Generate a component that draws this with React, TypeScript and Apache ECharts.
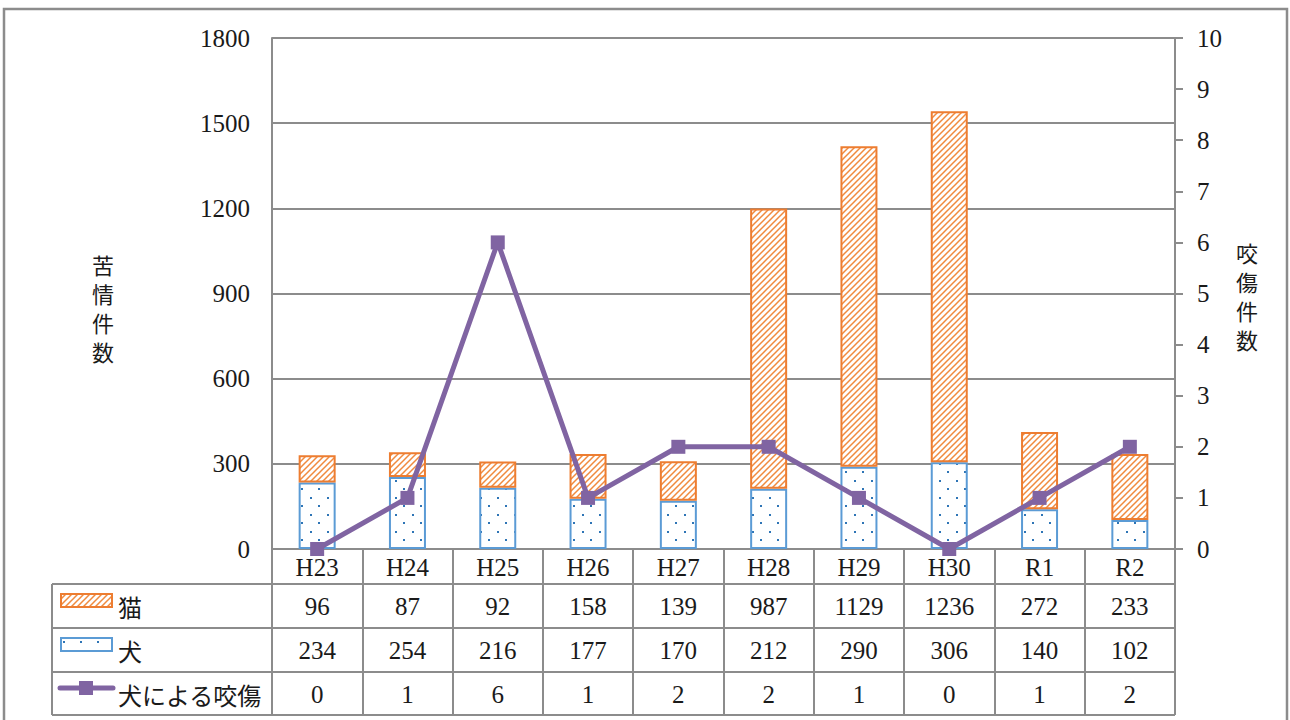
import React, { useEffect, useRef } from 'react';
import * as echarts from 'echarts';

const categories = ['H23', 'H24', 'H25', 'H26', 'H27', 'H28', 'H29', 'H30', 'R1', 'R2'];
const catValues = [96, 87, 92, 158, 139, 987, 1129, 1236, 272, 233];
const dogValues = [234, 254, 216, 177, 170, 212, 290, 306, 140, 102];
const biteValues = [0, 1, 6, 1, 2, 2, 1, 0, 1, 2];
const seriesNames = ['猫', '犬', '犬による咬傷'];
const leftAxisTitle = '苦情件数';
const rightAxisTitle = '咬傷件数';

const ORANGE = '#ED7D31';
const BLUE = '#5B9BD5';
const PURPLE = '#8064A2';
const GRAY = '#8c8c8c';
const TEXT = '#1a1a1a';
const SERIF = '"Liberation Serif", "DejaVu Serif", serif';
const CJK = '"Noto Sans CJK JP", sans-serif';

function makeHatch() {
  const c = document.createElement('canvas');
  c.width = 6;
  c.height = 6;
  const ctx = c.getContext('2d')!;
  ctx.fillStyle = '#ffffff';
  ctx.fillRect(0, 0, 6, 6);
  ctx.strokeStyle = '#F08A3E';
  ctx.lineWidth = 1.5;
  ctx.beginPath();
  ctx.moveTo(0, 6); ctx.lineTo(6, 0);
  ctx.moveTo(-3, 3); ctx.lineTo(3, -3);
  ctx.moveTo(3, 9); ctx.lineTo(9, 3);
  ctx.stroke();
  return { image: c, repeat: 'repeat' };
}

function makeDots() {
  const c = document.createElement('canvas');
  c.width = 17;
  c.height = 17;
  const ctx = c.getContext('2d')!;
  ctx.fillStyle = '#ffffff';
  ctx.fillRect(0, 0, 17, 17);
  ctx.fillStyle = '#2E75B6';
  ctx.fillRect(4, 4, 2, 2);
  ctx.fillRect(12, 12, 2, 2);
  return { image: c, repeat: 'repeat' };
}

export default function App() {
  const ref = useRef<HTMLDivElement>(null);
  useEffect(() => {
    document.body.style.margin = '0';
    const chart = echarts.init(ref.current!, null, { renderer: 'svg' });
    const hatch = makeHatch();
    const dots = makeDots();

    const L = 272, R = 1175, T = 38, B = 549;
    const rowLines = [584, 628, 672, 715];
    const tableLeft = 52;
    const colW = (R - L) / categories.length;
    const rowCenters = [606, 650, 694];
    const rows = [catValues, dogValues, biteValues];

    const graphics: any[] = [];
    graphics.push({
      type: 'rect', shape: { x: 4, y: 9, width: 1283, height: 730 },
      style: { fill: 'none', stroke: GRAY, lineWidth: 2.5 }, silent: true,
    });
    rowLines.forEach((y) => {
      graphics.push({
        type: 'line', shape: { x1: tableLeft, y1: y, x2: R, y2: y },
        style: { stroke: GRAY, lineWidth: 2 }, silent: true,
      });
    });
    graphics.push({
      type: 'line', shape: { x1: tableLeft, y1: rowLines[0], x2: tableLeft, y2: rowLines[3] },
      style: { stroke: GRAY, lineWidth: 2 }, silent: true,
    });
    rows.forEach((vals, r) => {
      vals.forEach((v, i) => {
        graphics.push({
          type: 'text', x: L + (i + 0.5) * colW, y: rowCenters[r],
          style: { text: String(v), font: `25px ${SERIF}`, fill: TEXT, textAlign: 'center', textVerticalAlign: 'middle' },
          silent: true,
        });
      });
    });
    graphics.push({
      type: 'rect', shape: { x: 61, y: 594, width: 51, height: 13 },
      style: { fill: hatch, stroke: ORANGE, lineWidth: 2 }, silent: true,
    });
    graphics.push({
      type: 'rect', shape: { x: 61, y: 638, width: 51, height: 13 },
      style: { fill: dots, stroke: BLUE, lineWidth: 2 }, silent: true,
    });
    graphics.push({
      type: 'line', shape: { x1: 60, y1: 688, x2: 113, y2: 688 },
      style: { stroke: PURPLE, lineWidth: 5, lineCap: 'round' }, silent: true,
    });
    graphics.push({
      type: 'rect', shape: { x: 79, y: 681, width: 14, height: 14 },
      style: { fill: PURPLE }, silent: true,
    });
    seriesNames.forEach((name, r) => {
      graphics.push({
        type: 'text', x: 118, y: rowCenters[r],
        style: { text: name, font: `24px ${CJK}`, fill: TEXT, textAlign: 'left', textVerticalAlign: 'middle' },
        silent: true,
      });
    });
    leftAxisTitle.split('').forEach((ch, k) => {
      graphics.push({
        type: 'text', x: 103, y: 264 + k * 29,
        style: { text: ch, font: `22px ${CJK}`, fill: TEXT, textAlign: 'center', textVerticalAlign: 'middle' },
        silent: true,
      });
    });
    rightAxisTitle.split('').forEach((ch, k) => {
      graphics.push({
        type: 'text', x: 1247, y: 252 + k * 29,
        style: { text: ch, font: `22px ${CJK}`, fill: TEXT, textAlign: 'center', textVerticalAlign: 'middle' },
        silent: true,
      });
    });

    chart.setOption({
      animation: false,
      backgroundColor: '#ffffff',
      grid: { left: L, right: 1290 - R, top: T, bottom: 720 - B, containLabel: false },
      xAxis: {
        type: 'category',
        data: categories,
        boundaryGap: true,
        axisLine: { show: true, lineStyle: { color: GRAY, width: 2 } },
        axisTick: { show: true, length: rowLines[3] - B, lineStyle: { color: GRAY, width: 2 } },
        axisLabel: { fontSize: 25, fontFamily: SERIF, color: TEXT, margin: 6 },
      },
      yAxis: [
        {
          type: 'value', min: 0, max: 1800, interval: 300,
          axisLine: { show: true, lineStyle: { color: GRAY, width: 2 } },
          axisTick: { show: false },
          splitLine: { show: true, lineStyle: { color: GRAY, width: 2 } },
          axisLabel: { fontSize: 25, fontFamily: SERIF, color: TEXT, margin: 22, formatter: (v: number) => String(v) },
        },
        {
          type: 'value', min: 0, max: 10, interval: 1,
          axisLine: { show: true, lineStyle: { color: GRAY, width: 2 } },
          axisTick: { show: true, length: 8, lineStyle: { color: GRAY, width: 2 } },
          splitLine: { show: false },
          axisLabel: { fontSize: 25, fontFamily: SERIF, color: TEXT, margin: 22, formatter: (v: number) => String(v) },
        },
      ],
      series: [
        {
          name: seriesNames[1], type: 'bar', stack: 'total', data: dogValues, barWidth: 37,
          itemStyle: { color: dots, borderColor: BLUE, borderWidth: 2 },
        },
        {
          name: seriesNames[0], type: 'bar', stack: 'total', data: catValues, barWidth: 37,
          itemStyle: { color: hatch, borderColor: ORANGE, borderWidth: 2 },
        },
        {
          name: seriesNames[2], type: 'line', yAxisIndex: 1, data: biteValues,
          symbol: 'rect', symbolSize: 14,
          lineStyle: { color: PURPLE, width: 5 },
          itemStyle: { color: PURPLE },
          z: 5,
        },
      ],
      graphic: graphics,
    });
    return () => chart.dispose();
  }, []);
  return <div ref={ref} style={{ width: 1290, height: 720 }} />;
}
